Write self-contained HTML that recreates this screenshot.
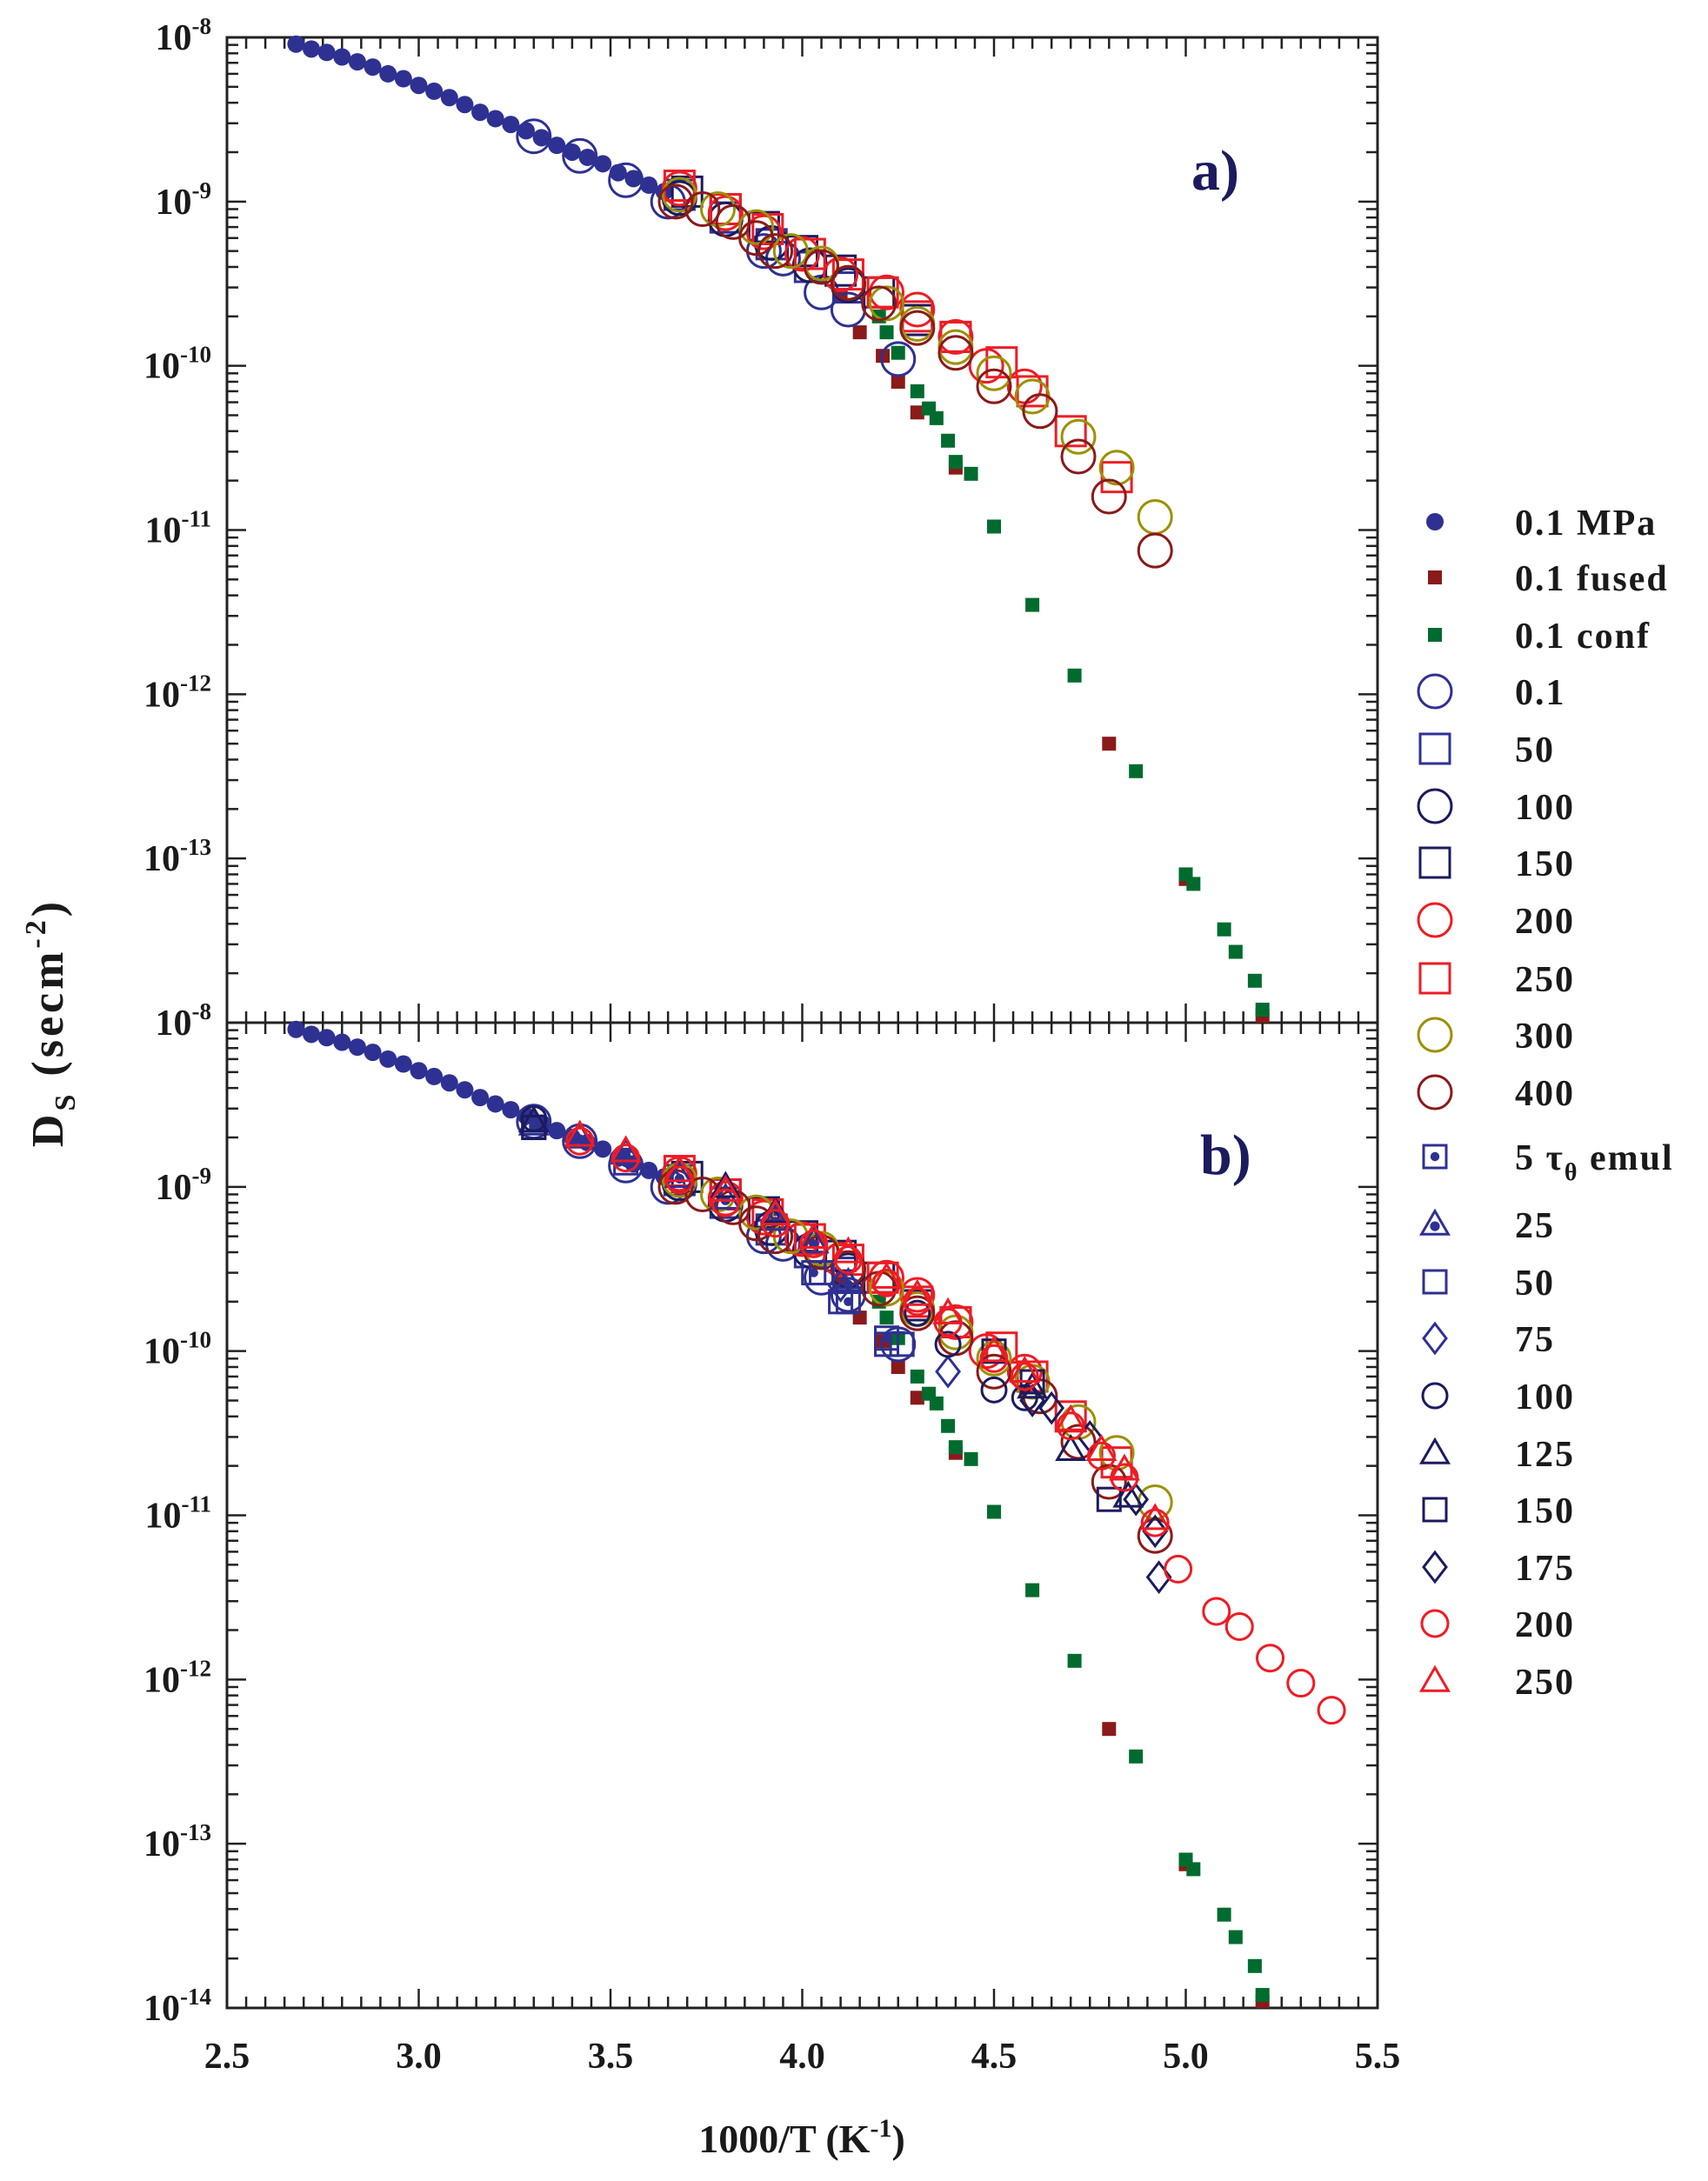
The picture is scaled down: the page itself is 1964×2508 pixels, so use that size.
<!DOCTYPE html>
<html><head><meta charset="utf-8"><style>
html,body{margin:0;padding:0;background:#fff;}
svg{display:block;font-family:"Liberation Serif",serif;font-weight:bold;}
</style></head><body>
<svg id="chart" width="1964" height="2508" viewBox="0 0 1964 2508" xmlns="http://www.w3.org/2000/svg">
<text transform="translate(72,1176) rotate(-90)" text-anchor="middle" font-size="52" fill="#1a1a1a" letter-spacing="4">D<tspan font-size="34" dy="14">S</tspan><tspan dy="-14"> (secm</tspan><tspan font-size="34" dy="-20">-2</tspan><tspan dy="20">)</tspan></text>
<text x="922" y="2475" text-anchor="middle" font-size="46" fill="#1a1a1a">1000/T (K<tspan font-size="30" dy="-18">-1</tspan><tspan dy="18">)</tspan></text>
<text x="1370" y="218" font-size="66" fill="#1b1b5e">a)</text>
<text x="1380" y="1350" font-size="66" fill="#1b1b5e">b)</text>
</svg>
<script>
// ---- data ----
const mpaX=[2.68,2.72,2.76,2.80,2.84,2.88,2.92,2.96,3.00,3.04,3.08,3.12,3.16,3.20,3.24,3.28,3.32,3.36,3.40,3.44,3.48,3.52,3.56,3.60,3.64];
const mpaD=[9.1e-9,8.5e-9,8.1e-9,7.6e-9,7.1e-9,6.6e-9,6.0e-9,5.6e-9,5.1e-9,4.7e-9,4.3e-9,3.9e-9,3.5e-9,3.2e-9,2.95e-9,2.7e-9,2.45e-9,2.2e-9,2.0e-9,1.86e-9,1.7e-9,1.5e-9,1.38e-9,1.26e-9,1.15e-9];
const fusedX=[4.10,4.15,4.21,4.25,4.30,4.40,4.80,5.00,5.20];
const fusedD=[2.7e-10,1.6e-10,1.15e-10,8e-11,5.2e-11,2.4e-11,5e-13,7.5e-14,1.1e-14];
const confX=[4.20,4.22,4.25,4.30,4.33,4.35,4.38,4.40,4.44,4.50,4.60,4.71,4.87,5.00,5.02,5.10,5.13,5.18,5.20];
const confD=[2e-10,1.6e-10,1.2e-10,7e-11,5.5e-11,4.8e-11,3.5e-11,2.6e-11,2.2e-11,1.05e-11,3.5e-12,1.3e-12,3.4e-13,8e-14,7e-14,3.7e-14,2.7e-14,1.8e-14,1.2e-14];
const p01X=[3.30,3.42,3.54,3.65,3.90,3.95,4.05,4.12,4.25];
const p01D=[2.5e-9,1.9e-9,1.35e-9,1.0e-9,5e-10,4.5e-10,2.8e-10,2.2e-10,1.1e-10];
const p50X=[3.68,3.80,3.92,4.02,4.12];
const p50D=[1.1e-9,8e-10,5.5e-10,4e-10,3e-10];
const p100X=[3.68,3.80,3.92,4.02,4.12];
const p100D=[1.05e-9,7.8e-10,5.6e-10,4.1e-10,3.1e-10];
const p150X=[3.70,3.80,3.90,4.00,4.10,4.20,4.30,4.40];
const p150D=[1.15e-9,9e-10,7e-10,5e-10,3.8e-10,2.8e-10,1.9e-10,1.5e-10];
const p200X=[3.68,3.80,3.90,4.00,4.10,4.22,4.30,4.40,4.48,4.58];
const p200D=[1.2e-9,8.5e-10,6.5e-10,4.8e-10,3.6e-10,2.8e-10,2.2e-10,1.5e-10,1.0e-10,7.5e-11];
const p250X=[3.68,3.80,3.91,4.02,4.12,4.21,4.30,4.40,4.52,4.60,4.70,4.82];
const p250D=[1.25e-9,9e-10,6.8e-10,4.8e-10,3.6e-10,2.8e-10,2e-10,1.5e-10,1.05e-10,7e-11,4e-11,2.1e-11];
const p300X=[3.68,3.78,3.88,3.97,4.05,4.12,4.22,4.30,4.40,4.50,4.60,4.72,4.82,4.92];
const p300D=[1.1e-9,9e-10,7e-10,5e-10,4.2e-10,3.2e-10,2.4e-10,1.8e-10,1.3e-10,9e-11,6.5e-11,3.7e-11,2.4e-11,1.2e-11];
const p400X=[3.67,3.74,3.82,3.88,3.93,4.05,4.12,4.20,4.30,4.40,4.50,4.62,4.72,4.80,4.92];
const p400D=[1.0e-9,9e-10,7.5e-10,6e-10,5e-10,4e-10,3.2e-10,2.4e-10,1.7e-10,1.2e-10,7.5e-11,5.3e-11,2.8e-11,1.6e-11,7.5e-12];
const e5X=[3.30,3.54,4.03,4.12,4.22];
const e5D=[2.3e-9,1.4e-9,3e-10,2e-10,1.2e-10];
const e25X=[3.30,3.42,3.54,3.68,3.80,3.93,4.03,4.12];
const e25D=[2.4e-9,2e-9,1.6e-9,1.15e-9,8.5e-10,6.3e-10,4.6e-10,2.6e-10];
const e50X=[4.05,4.10,4.22,4.26];
const e50D=[3e-10,2e-10,1.1e-10,1.1e-10];
const e75X=[4.10,4.38];
const e75D=[2.5e-10,7.5e-11];
const e100X=[3.30,4.30,4.38,4.50,4.58];
const e100D=[2.6e-9,1.7e-10,1.1e-10,5.8e-11,5.2e-11];
const e125X=[3.30,3.80,3.93,4.60,4.70,4.85];
const e125D=[2.5e-9,1e-9,7e-10,6e-11,2.5e-11,1.3e-11];
const e150X=[3.30,4.50,4.60,4.80];
const e150D=[2.3e-9,1e-10,6.5e-11,1.25e-11];
const e175X=[4.60,4.65,4.75,4.87,4.92,4.93];
const e175D=[5e-11,4.5e-11,3e-11,1.25e-11,8e-12,4.2e-12];
const e200X=[3.42,3.54,3.68,3.80,3.93,4.03,4.12,4.22,4.30,4.38,4.50,4.58,4.70,4.78,4.84,4.92,4.98,5.08,5.14,5.22,5.30,5.38];
const e200D=[1.9e-9,1.5e-9,1.1e-9,8e-10,6e-10,4.5e-10,3.6e-10,2.6e-10,2e-10,1.5e-10,9e-11,7e-11,3.5e-11,2.3e-11,1.7e-11,9e-12,4.7e-12,2.6e-12,2.1e-12,1.35e-12,9.5e-13,6.5e-13];
const e250X=[3.42,3.54,3.68,3.80,3.93,4.03,4.12,4.22,4.30,4.38,4.50,4.58,4.70,4.78,4.84,4.92];
const e250D=[2.05e-9,1.65e-9,1.25e-9,9.5e-10,6.8e-10,4.9e-10,4e-10,2.8e-10,2.2e-10,1.7e-10,1e-10,7.5e-11,3.8e-11,2.5e-11,1.9e-11,9.5e-12];
const xTicks=[2.5,3.0,3.5,4.0,4.5,5.0,5.5];
const yExpsA=[-8,-9,-10,-11,-12,-13];
const yExpsB=[-8,-9,-10,-11,-12,-13,-14];
const legendLabels=["0.1 MPa","0.1 fused","0.1 conf","0.1","50","100","150","200","250","300","400","5 emul","25","50","75","100","125","150","175","200","250"];

// ---- layout ----
const NS="http://www.w3.org/2000/svg";
const svg=document.getElementById('chart');
const L=261,R=1584,TA=43,BA=1176,TB=1176,BB=2309;
const BLUE="#2e3192",NAVY="#1b1b5e",RED="#ee1c24",DRED="#8b1a1a",OLIVE="#9b9100",GREEN="#006b2e";
function xs(v){return L+(v-2.5)/3*(R-L);}
function ysA(d){return TA+(-8-Math.log10(d))/6*(BA-TA);}
function ysB(d){return TB+(-8-Math.log10(d))/6*(BB-TB);}
function mk(tag,attrs,parent){const e=document.createElementNS(NS,tag);for(const k in attrs)e.setAttribute(k,attrs[k]);(parent||svg).appendChild(e);return e;}

function drawAxes(top,bot,pname,exps){
  const g=mk('g',{});
  
  
  mk('rect',{x:L,y:top,width:R-L,height:bot-top,fill:'none',stroke:'#222','stroke-width':3},g);
  for(let i=0;i<=60;i++){
    const v=2.5+i*0.05;const x=xs(v);const maj=(i%10===0);const len=maj?22:13;
    mk('line',{x1:x,y1:bot,x2:x,y2:bot-len,stroke:'#222','stroke-width':2.5},g);
    mk('line',{x1:x,y1:top,x2:x,y2:top+len,stroke:'#222','stroke-width':2.5},g);
  }
  const ys=d=>top+(-8-Math.log10(d))/6*(bot-top);
  for(let e=-14;e<=-8;e++){
    for(let m=1;m<=9;m++){
      const d=m*Math.pow(10,e);if(e===-8&&m>1)continue;
      const y=ys(d);const len=(m===1)?22:13;
      mk('line',{x1:L,y1:y,x2:L+len,y2:y,stroke:'#222','stroke-width':2.5},g);
      mk('line',{x1:R,y1:y,x2:R-len,y2:y,stroke:'#222','stroke-width':2.5},g);
    }
  }
  exps.forEach(e=>{
    const y=ys(Math.pow(10,e));
    const t=mk('text',{x:L-18,y:y+14,'text-anchor':'end','font-size':42,fill:'#1a1a1a'},g);
    
    
    t.innerHTML='10<tspan font-size="27" dy="-18">'+e+'</tspan>';
  });
}
drawAxes(TA,BA,'panel-a',yExpsA);
drawAxes(TB,BB,'panel-b',yExpsB);
xTicks.forEach(v=>{
  const t=mk('text',{x:xs(v),y:2378,'text-anchor':'middle','font-size':42,fill:'#1a1a1a'});
  
  
  t.textContent=v.toFixed(1);
});

function marker(type,cx,cy,color,size,parent){
  const sw=3;
  if(type==='fcircle')return mk('circle',{cx,cy,r:size,fill:color},parent);
  if(type==='fsquare')return mk('rect',{x:cx-size,y:cy-size,width:2*size,height:2*size,fill:color},parent);
  if(type==='circle')return mk('circle',{cx,cy,r:size,fill:'none',stroke:color,'stroke-width':sw},parent);
  if(type==='square')return mk('rect',{x:cx-size,y:cy-size,width:2*size,height:2*size,fill:'none',stroke:color,'stroke-width':sw},parent);
  if(type==='diamond')return mk('polygon',{points:`${cx},${cy-size*1.3} ${cx+size},${cy} ${cx},${cy+size*1.3} ${cx-size},${cy}`,fill:'none',stroke:color,'stroke-width':sw},parent);
  if(type==='triangle')return mk('polygon',{points:`${cx},${cy-size*1.1} ${cx+size*1.1},${cy+size*0.8} ${cx-size*1.1},${cy+size*0.8}`,fill:'none',stroke:color,'stroke-width':sw},parent);
  if(type==='psquare'){const g=mk('g',{},parent);marker('square',cx,cy,color,size,g);mk('circle',{cx,cy,r:size*0.4,fill:color},g);return g;}
  if(type==='ptriangle'){const g=mk('g',{},parent);marker('triangle',cx,cy,color,size,g);mk('circle',{cx,cy:cy+size*0.15,r:size*0.4,fill:color},g);return g;}
}
function series(name,X,D,type,color,size,ys){
  const g=mk('g',{});
  
  
  X.forEach((x,i)=>{
    const m=marker(type,xs(x),ys(D[i]),color,size,g);
    
    
  });
}
const aSeries=[
 ['p01',p01X,p01D,'circle',BLUE,19],['p50',p50X,p50D,'square',BLUE,17],['p100',p100X,p100D,'circle',NAVY,19],
 ['p150',p150X,p150D,'square',NAVY,17],['p200',p200X,p200D,'circle',RED,19],['p250',p250X,p250D,'square',RED,17],
 ['p300',p300X,p300D,'circle',OLIVE,19],['p400',p400X,p400D,'circle',DRED,19]
];
[['a',ysA],['b',ysB]].forEach(([p,ys])=>{
  series('panel-'+p+'-series-0.1-mpa',mpaX,mpaD,'fcircle',BLUE,10,ys);
  series('panel-'+p+'-series-fused',fusedX,fusedD,'fsquare',DRED,8,ys);
  series('panel-'+p+'-series-conf',confX,confD,'fsquare',GREEN,8,ys);
  aSeries.forEach(s=>series('panel-'+p+'-series-'+s[0],s[1],s[2],s[3],s[4],s[5],ys));
});
const bSeries=[
 ['e5',e5X,e5D,'psquare',BLUE,13],['e25',e25X,e25D,'ptriangle',BLUE,14],['e50',e50X,e50D,'square',BLUE,13],
 ['e75',e75X,e75D,'diamond',BLUE,13],['e100',e100X,e100D,'circle',NAVY,14],['e125',e125X,e125D,'triangle',NAVY,14],
 ['e150',e150X,e150D,'square',NAVY,13],['e175',e175X,e175D,'diamond',NAVY,13],['e200',e200X,e200D,'circle',RED,15],
 ['e250',e250X,e250D,'triangle',RED,14]
];
bSeries.forEach(s=>series('panel-b-series-'+s[0],s[1],s[2],s[3],s[4],s[5],ysB));

const legTypes=[['fcircle',BLUE,10],['fsquare',DRED,8],['fsquare',GREEN,8],['circle',BLUE,19],['square',BLUE,17],['circle',NAVY,19],['square',NAVY,17],['circle',RED,19],['square',RED,17],['circle',OLIVE,19],['circle',DRED,19],
 ['psquare',BLUE,13],['ptriangle',BLUE,14],['square',BLUE,13],['diamond',BLUE,13],['circle',NAVY,14],['triangle',NAVY,14],['square',NAVY,13],['diamond',NAVY,13],['circle',RED,15],['triangle',RED,14]];
const legY=[600,664,730,795,861,927,992,1058,1125,1190,1256,1330,1408,1474,1539,1605,1671,1736,1802,1867,1933];
legendLabels.forEach((lab,i)=>{
  const g=mk('g',{});
  
  
  const t=legTypes[i];
  marker(t[0],1650,legY[i],t[1],t[2],g);
  const tx=mk('text',{x:1742,y:legY[i]+15,'font-size':42,fill:'#1a1a1a','letter-spacing':'2'},g);
  if(i===11){tx.innerHTML='5 τ<tspan font-size="28" dy="12">θ</tspan><tspan dy="-12"> emul</tspan>';}
  else tx.textContent=lab;
});
</script>
</body></html>
